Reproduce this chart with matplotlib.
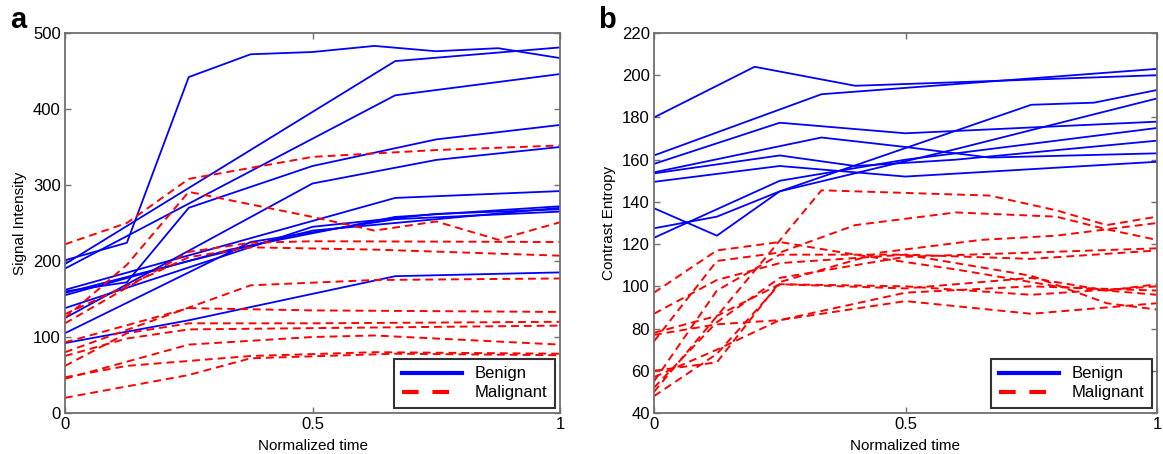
import matplotlib
matplotlib.use("Agg")
import matplotlib.pyplot as plt
from matplotlib.lines import Line2D

plt.rcParams['font.family'] = ['Liberation Sans', 'DejaVu Sans']

# Panel a: signal intensity curves (normalized time, value)
benign_a_t = [
    [0, .125, .25, .375, .5, .625, .75, .875, 1],
    [0, .667, 1],
    [0, .125, .25, .5, .75, 1],
    [0, .667, 1],
    [0, .5, .75, 1],
    [0, .667, 1],
    [0, .333, .667, 1],
    [0, .5, .75, 1],
    [0, .375, .667, 1],
    [0, .25, .667, 1],
    [0, .25, .5, 1],
]
benign_a_v = [
    [201, 224, 442, 472, 475, 483, 476, 480, 467],
    [196, 463, 481],
    [160, 172, 270, 325, 360, 379],
    [190, 418, 446],
    [125, 302, 333, 350],
    [162, 283, 292],
    [155, 215, 258, 272],
    [138, 245, 262, 268],
    [105, 225, 255, 265],
    [92, 122, 180, 185],
    [158, 200, 240, 270],
]
malig_a_t = [
    [0, .125, .25, .5, .75, 1],
    [0, .125, .25, .5, .625, .75, .875, 1],
    [0, .25, .375, .5, 1],
    [0, .25, .375, .625, 1],
    [0, .375, .625, 1],
    [0, .25, .5, 1],
    [0, .125, .25, .5, 1],
    [0, .125, .25, 1],
    [0, .25, .5, .625, 1],
    [0, .125, .375, .625, 1],
    [0, .25, .375, .667, 1],
]
malig_a_v = [
    [222, 250, 308, 337, 346, 352],
    [125, 195, 291, 258, 240, 252, 228, 251],
    [118, 212, 224, 226, 225],
    [130, 205, 218, 215, 207],
    [80, 168, 175, 177],
    [93, 138, 135, 133],
    [62, 105, 118, 118, 120],
    [75, 98, 110, 115],
    [45, 90, 100, 102, 90],
    [47, 62, 75, 80, 78],
    [20, 50, 72, 78, 76],
]

# Panel b: contrast entropy curves
benign_b_t = [
    [0, .2, .4, 1],
    [0, .333, 1],
    [0, .25, .5, 1],
    [0, .333, .5, .667, 1],
    [0, .25, .4, .6, 1],
    [0, .25, .5, 1],
    [0, .125, .25, .75, .875, 1],
    [0, .125, .25, .6, 1],
    [0, .25, .5, 1],
]
benign_b_v = [
    [180, 204, 195, 200],
    [162, 191, 203],
    [158, 177.5, 172.5, 178],
    [154, 170.5, 166, 161, 163],
    [153.5, 162, 157, 160, 169],
    [149.5, 157, 152, 159],
    [137, 124, 145, 186, 187, 193],
    [127.5, 133, 145, 165, 189],
    [123, 150, 160, 175],
]
malig_b_t = [
    [0, .333, .667, .8, .9, 1],
    [0, .125, .25, .4, .6, .8, 1],
    [0, .125, .25, .5, .75, 1],
    [0, .125, .25, .5, .75, .9, 1],
    [0, .125, .25, .5, .75, 1],
    [0, .125, .25, .4, .6, .8, .9, 1],
    [0, .125, .25, .45, .65, .8, 1],
    [0, .125, .25, .5, .75, 1],
    [0, .125, .25, .5, .75, .9, 1],
    [0, .125, .25, .5, .75, 1],
    [0, .125, .25, .5, .75, 1],
]
malig_b_v = [
    [50, 145.5, 143, 136, 129, 133],
    [97, 117, 121, 115, 108, 100, 96],
    [87, 103, 111, 115, 113, 117],
    [78, 86, 101, 99, 104, 98, 101],
    [77, 82, 84, 93, 87, 92],
    [74, 112, 116, 129, 135, 133, 127, 122],
    [60, 64, 102, 116, 122, 124, 130],
    [57, 70, 84, 97, 100, 98],
    [55, 98, 115, 115, 105, 92, 89],
    [52, 83, 104, 114, 116, 118],
    [48, 68, 101, 100, 96, 100],
]

BLUE = '#0000ff'
RED = '#ff0000'
FRAME = '#707070'

fig = plt.figure(figsize=(11.63, 4.54), dpi=100)
ax_a = fig.add_axes([65 / 1163, 41 / 454, 495 / 1163, 380 / 454])
ax_b = fig.add_axes([654 / 1163, 41 / 454, 503 / 1163, 380 / 454])


def draw_panel(ax, bt, bv, mt, mv, ylim, yticks, ylabel):
    for t, v in zip(bt, bv):
        ax.plot(t, v, color=BLUE, lw=1.3)
    for t, v in zip(mt, mv):
        ax.plot(t, v, color=RED, lw=1.4, dashes=(4, 2.6))
    ax.set_xlim(0, 1)
    ax.set_ylim(*ylim)
    ax.set_xticks([0, 0.5, 1])
    ax.set_xticklabels(['0', '0.5', '1'])
    ax.set_yticks(yticks)
    ax.tick_params(direction='in', length=4, width=1, color=FRAME,
                   top=True, right=True, labelsize=12, pad=3)
    for s in ax.spines.values():
        s.set_color(FRAME)
        s.set_linewidth(1.3)
    ax.set_xlabel('Normalized time', fontsize=11, labelpad=5)
    ax.set_ylabel(ylabel, fontsize=11, labelpad=4)
    handles = [Line2D([], [], color=BLUE, lw=3),
               Line2D([], [], color=RED, lw=3, dashes=(4, 3.3))]
    leg = ax.legend(handles, ['Benign', 'Malignant'], loc='lower right',
                    fontsize=12, frameon=True, fancybox=False,
                    borderaxespad=0.3, borderpad=0.45, handlelength=3.6,
                    handletextpad=0.8, labelspacing=0.25)
    leg.get_frame().set_edgecolor('black')
    leg.get_frame().set_linewidth(1.5)


draw_panel(ax_a, benign_a_t, benign_a_v, malig_a_t, malig_a_v,
           (0, 500), range(0, 501, 100), 'Signal Intensity')
draw_panel(ax_b, benign_b_t, benign_b_v, malig_b_t, malig_b_v,
           (40, 220), range(40, 221, 20), 'Contrast Entropy')

fig.text(10 / 1163, 1 - 28 / 454, 'a', fontsize=21, fontweight='bold')
fig.text(598 / 1163, 1 - 28 / 454, 'b', fontsize=21, fontweight='bold')

fig.savefig('out.png', dpi=100)
